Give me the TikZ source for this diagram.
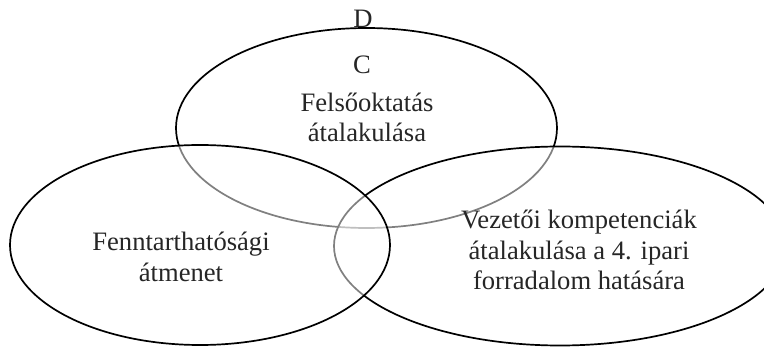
\documentclass[tikz,border=0pt]{standalone}
\usepackage{fontspec}
\setmainfont{Liberation Serif}
\begin{document}
\begin{tikzpicture}[x=1pt,y=-1pt,
  venn/.style={draw=black,line width=1.7pt,fill=white,fill opacity=0.5},
  lbl/.style={inner sep=0pt,align=center,font=\fontsize{26.6}{30.5}\selectfont,text=black!85}]
\useasboundingbox (0,0) rectangle (764,347);
\clip (0,0) rectangle (764,347);
\path[venn] (366.5,128) ellipse [x radius=190.5, y radius=100] coordinate (top);
\path[venn] (560,246) ellipse [x radius=226, y radius=99.5] coordinate (right);
\path[venn] (200,245) ellipse [x radius=190, y radius=100] coordinate (left);
\node[lbl,anchor=base] (D) at (363,28) {D};
\node[lbl,anchor=base] (C) at (362,74) {C};
\node[lbl,anchor=base] (t1) at (367,142) {Felsőoktatás\\átalakulása};
\node[lbl,anchor=base] (t2) at (181,281.5) {Fenntarthatósági\\átmenet};
\node[lbl,anchor=base] (t3) at (579,290) {Vezetői kompetenciák\\átalakulása a 4. ipari\\forradalom hatására};
\end{tikzpicture}
\end{document}
